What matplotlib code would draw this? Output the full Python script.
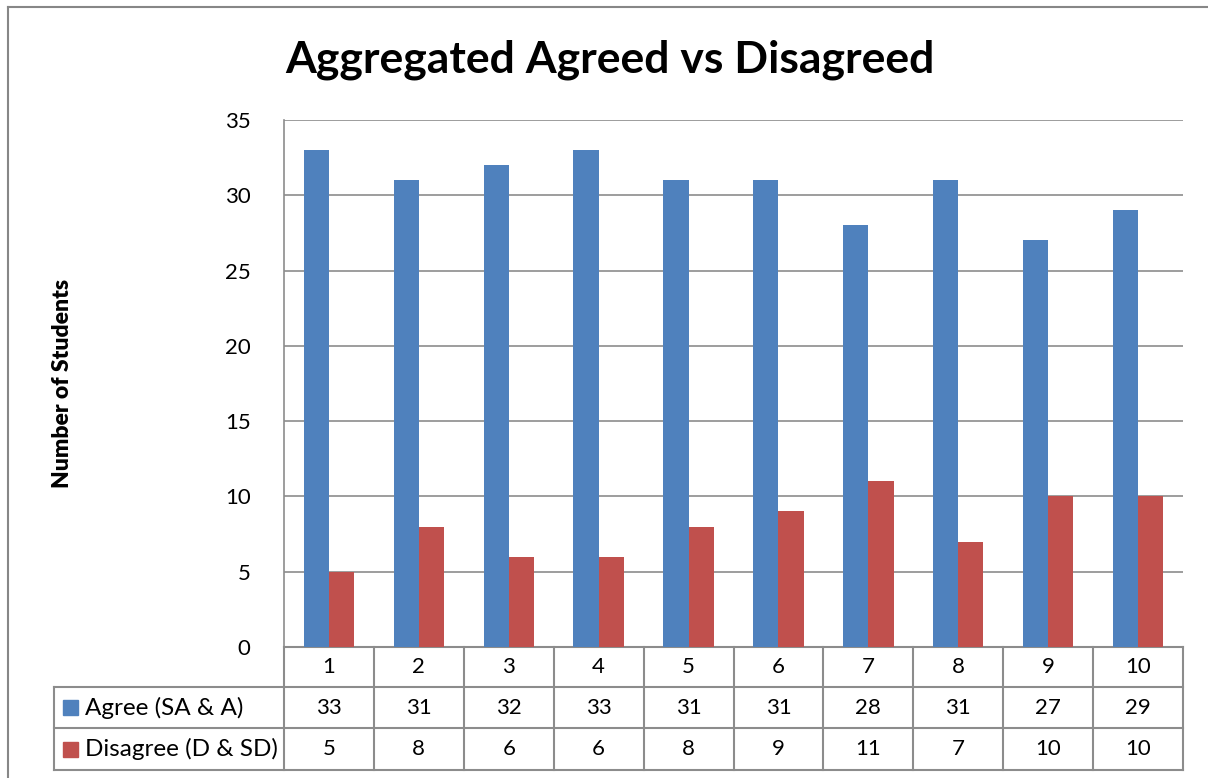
import matplotlib.pyplot as plt
import numpy as np
from matplotlib.lines import Line2D
from matplotlib.patches import Rectangle
from matplotlib.transforms import blended_transform_factory

categories = ["1", "2", "3", "4", "5", "6", "7", "8", "9", "10"]
agree = [33, 31, 32, 33, 31, 31, 28, 31, 27, 29]
disagree = [5, 8, 6, 6, 8, 9, 11, 7, 10, 10]
series_names = ["Agree (SA & A)", "Disagree (D & SD)"]
colors = ["#4F81BD", "#C0504D"]
title = "Aggregated Agreed vs Disagreed"
ylabel = "Number of Students"

plt.rcParams["font.family"] = ["Lato", "DejaVu Sans"]
GRID = "#8c8c8c"
W, H = 1208, 778
FS = 16

fig = plt.figure(figsize=(W / 100, H / 100), dpi=100)
# plot area in pixels: x 284..1183, y 120..647
left, right, top, bottom = 284, 1183, 120, 647
ax = fig.add_axes([left / W, 1 - bottom / H, (right - left) / W, (bottom - top) / H])

# outer chart border (top and left edges visible)
fig.lines.append(Line2D([8 / W, 8 / W], [0, 1 - 7 / H], transform=fig.transFigure,
                        color="#878787", lw=1.5))
fig.lines.append(Line2D([8 / W, 1], [1 - 7 / H, 1 - 7 / H], transform=fig.transFigure,
                        color="#878787", lw=1.5))

x = np.arange(len(categories))
bw = 0.28
ax.bar(x - bw / 2, agree, bw, color=colors[0], zorder=3)
ax.bar(x + bw / 2, disagree, bw, color=colors[1], zorder=3)

ax.set_xlim(-0.5, len(categories) - 0.5)
ax.set_ylim(0, 35)
ax.set_yticks(np.arange(0, 36, 5))
ax.tick_params(axis="y", length=0, labelsize=FS, pad=24)
ax.set_xticks([])
ax.yaxis.grid(True, color=GRID, linewidth=1.2, zorder=0)
for s in ["top", "right"]:
    ax.spines[s].set_visible(False)
for s in ["left", "bottom"]:
    ax.spines[s].set_color(GRID)
    ax.spines[s].set_linewidth(1.2)

ax.set_ylabel(ylabel, fontsize=16.5, fontweight="heavy", labelpad=0)
ax.yaxis.set_label_coords((73 - left) / (right - left), 0.5)
fig.text(610 / W, 1 - 60 / H, title, fontsize=32, fontweight="bold", ha="center", va="center")

# data table below the axis
ph = bottom - top
def ay(ypix):
    return (bottom - ypix) / ph

def ax_x(xpix):
    return (xpix - left) / (right - left)

blend = blended_transform_factory(ax.transData, ax.transAxes)
rows = [647, 687, 728, 770]
lw = 1.5
n = len(categories)
# vertical lines at category boundaries
for b in np.arange(-0.5, n, 1.0):
    ax.plot([b, b], [ay(rows[0]), ay(rows[-1])], color=GRID, lw=lw, transform=blend, clip_on=False)
# horizontal lines
ax.plot([-0.5, n - 0.5], [ay(rows[0])] * 2, color=GRID, lw=lw, transform=blend, clip_on=False)
for r in rows[1:]:
    ax.plot([ax_x(54), 1], [ay(r)] * 2, color=GRID, lw=lw, transform=ax.transAxes, clip_on=False)
ax.plot([ax_x(54)] * 2, [ay(rows[1]), ay(rows[-1])], color=GRID, lw=lw,
        transform=ax.transAxes, clip_on=False)

for i, c in enumerate(categories):
    ax.text(i, ay((rows[0] + rows[1]) / 2), c, transform=blend, ha="center", va="center", fontsize=FS)
for r, vals in enumerate([agree, disagree]):
    yc = ay((rows[r + 1] + rows[r + 2]) / 2)
    for i, v in enumerate(vals):
        ax.text(i, yc, str(v), transform=blend, ha="center", va="center", fontsize=FS)
    ax.add_patch(Rectangle((ax_x(63), yc - 7.5 / ph), 15 / (right - left), 15 / ph,
                           transform=ax.transAxes, color=colors[r], clip_on=False))
    ax.text(ax_x(85), yc, series_names[r], transform=ax.transAxes, ha="left", va="center",
            fontsize=17.5)

fig.savefig("out.png", dpi=100)
